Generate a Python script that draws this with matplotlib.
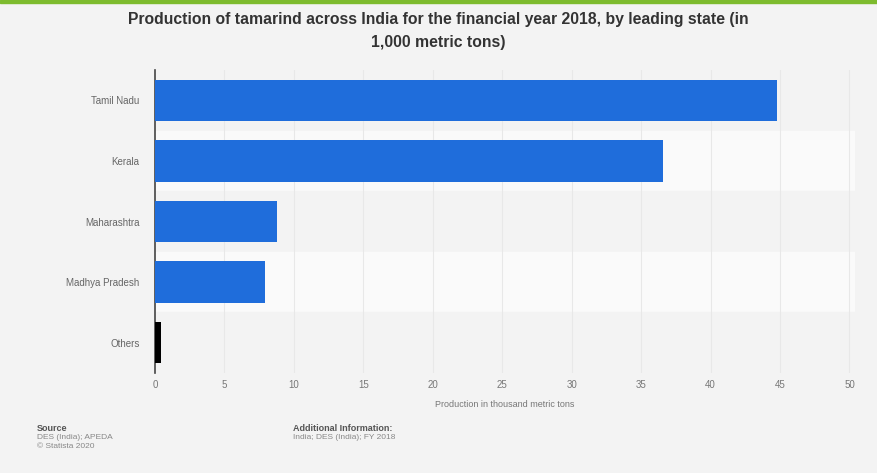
import matplotlib
matplotlib.use("Agg")
import matplotlib.pyplot as plt
from matplotlib.patches import Rectangle

states = ["Tamil Nadu", "Kerala", "Maharashtra", "Madhya Pradesh", "Others"]
production = [44.8, 36.6, 8.8, 7.9, 0.45]
bar_colors = ["#1f6ddb", "#1f6ddb", "#1f6ddb", "#1f6ddb", "#000000"]
xticks = [0, 5, 10, 15, 20, 25, 30, 35, 40, 45, 50]

plt.rcParams['font.family'] = ['Liberation Sans', 'DejaVu Sans']

W, H = 877, 473
fig = plt.figure(figsize=(W / 100, H / 100), dpi=100)
fig.patch.set_facecolor("#f3f3f3")

# green top line
fig.add_artist(Rectangle((0, 1 - 3 / H), 1, 3 / H, transform=fig.transFigure,
                         color="#7dbb2e", zorder=5))

ax = fig.add_axes([155 / W, 1 - 373 / H, 700 / W, 303 / H])
ax.set_facecolor("#f3f3f3")
n = len(states)
ypos = list(range(n))
ax.set_ylim(n - 0.5, -0.5)
ax.set_xlim(0, 50.4)

# alternate row stripes
for i in ypos:
    ax.axhspan(i - 0.5, i + 0.5, color="#f3f3f3" if i % 2 == 0 else "#fafafa", zorder=0)

for x in xticks[1:]:
    ax.axvline(x, color="#e8e8e8", lw=0.8, zorder=1)

ax.barh(ypos, production, height=0.68, color=bar_colors, zorder=3)

ax.set_yticks(ypos)
ax.set_yticklabels(states, fontsize=7, color="#666666")
ax.set_xticks(xticks)
ax.set_xticklabels([str(t) for t in xticks], fontsize=7, color="#777777")
ax.tick_params(axis="x", length=0, pad=5)
ax.tick_params(axis="y", length=0, pad=11)
for s in ["top", "right", "bottom"]:
    ax.spines[s].set_visible(False)
ax.spines["left"].set_color("#444444")
ax.spines["left"].set_linewidth(1.2)
ax.set_xlabel("Production in thousand metric tons", fontsize=6.5, color="#777777", labelpad=7)

fig.text(438 / W, 1 - 31 / H,
         "Production of tamarind across India for the financial year 2018, by leading state (in\n1,000 metric tons)",
         ha="center", va="center", fontsize=11.3, fontweight="bold", color="#333333", linespacing=1.6)

fig.text(37 / W, 1 - 428 / H, "Source", fontsize=6.5, fontweight="bold", color="#555555", va="center")
fig.text(37 / W, 1 - 437 / H, "DES (India); APEDA", fontsize=6, color="#888888", va="center")
fig.text(37 / W, 1 - 446 / H, "© Statista 2020", fontsize=6, color="#888888", va="center")
fig.text(293 / W, 1 - 428 / H, "Additional Information:", fontsize=6.5, fontweight="bold", color="#555555", va="center")
fig.text(293 / W, 1 - 437 / H, "India; DES (India); FY 2018", fontsize=6, color="#888888", va="center")

fig.savefig("out.png", dpi=100, facecolor=fig.get_facecolor())
